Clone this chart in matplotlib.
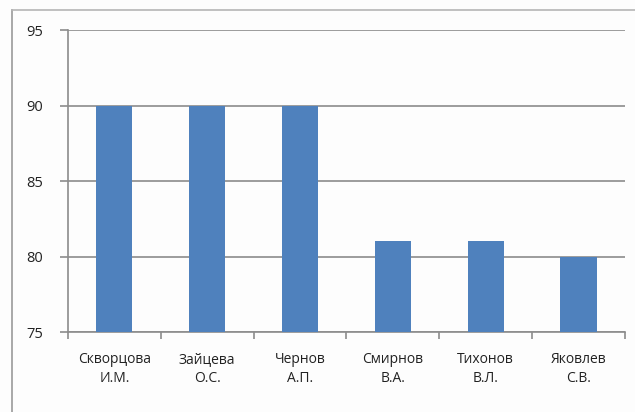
import matplotlib
matplotlib.use("Agg")
import matplotlib.pyplot as plt
from matplotlib.lines import Line2D
import numpy as np

# data
names = ["Скворцова\nИ.М.", "Зайцева\nО.С.", "Чернов\nА.П.",
         "Смирнов\nВ.А.", "Тихонов\nВ.Л.", "Яковлев\nС.В."]
scores = [90, 90, 90, 81, 81, 80]
yticks = [75, 80, 85, 90, 95]

plt.rcParams['font.family'] = ['Open Sans', 'DejaVu Sans']

fig = plt.figure(figsize=(6.35, 4.12), dpi=100)
fig.patch.set_facecolor('#fdfdfd')
ax = fig.add_axes([0.107, 0.194, 0.877, 0.733])
ax.set_facecolor('#fdfdfd')

x = np.arange(len(names))
ax.bar(x, scores, width=0.39, color='#4f81bd', zorder=3)

ax.set_xlim(-0.5, len(names) - 0.5)
ax.set_ylim(75, 95)
ax.set_yticks(yticks)
ax.yaxis.grid(True, color='#8c8c8c', linewidth=1.2, zorder=0)

# category labels centred, ticks on category boundaries
ax.set_xticks(x)
ax.set_xticklabels(names, fontsize=10, color='#222222', linespacing=1.45)
ax.tick_params(axis='x', length=0, pad=14)
ax.set_xticks(np.arange(len(names) + 1) - 0.5, minor=True)
ax.tick_params(axis='x', which='minor', length=5, color='#8c8c8c', width=1.2)
ax.tick_params(axis='y', length=6, color='#8c8c8c', width=1.2,
               labelsize=10.5, labelcolor='#222222', pad=12)

for s in ['top', 'right']:
    ax.spines[s].set_visible(False)
for s in ['left', 'bottom']:
    ax.spines[s].set_color('#8c8c8c')
    ax.spines[s].set_linewidth(1.2)

# outer chart frame
fig.add_artist(Line2D([12/635, 12/635], [0, 1 - 10/412], color='#9a9a9a', lw=1.2))
fig.add_artist(Line2D([12/635, 1], [1 - 10/412, 1 - 10/412], color='#b5b5b5', lw=1.2))

fig.savefig("out.png", dpi=100, facecolor=fig.get_facecolor())
